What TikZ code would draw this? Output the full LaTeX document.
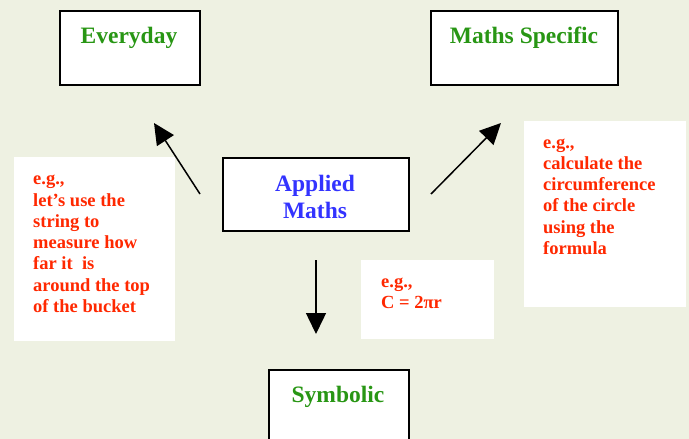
\documentclass[tikz,border=0pt]{standalone}
\usepackage{fontspec}
\setmainfont{Liberation Serif}
\usetikzlibrary{arrows.meta}
\definecolor{bg}{RGB}{238,241,226}
\definecolor{ttlgreen}{RGB}{40,150,20}
\definecolor{ttlblue}{RGB}{51,51,255}
\definecolor{notered}{RGB}{255,40,0}
\tikzset{
  box/.style={draw=black, line width=1.6pt, fill=white, inner sep=0pt, rectangle},
  note/.style={fill=white, draw=none, inner sep=0pt, rectangle},
  ttl/.style={font=\bfseries\fontsize{23.5}{27}\selectfont, inner sep=0pt, align=center},
  redtxt/.style={font=\bfseries\fontsize{18.5}{21.3}\selectfont, text=notered, inner sep=0pt, align=left, anchor=base west},
  arr/.style={line width=1.5pt, -{Triangle[length=21pt,width=20pt]}}
}
\begin{document}
\begin{tikzpicture}[x=1pt,y=-1pt]
\fill[bg] (0,0) rectangle (689,439);
\useasboundingbox (0,0) rectangle (689,439);
\clip (0,0) rectangle (689,439);
% notes
\node[note, minimum width=161pt, minimum height=184pt] (noteL) at (94.5,249) {};
\node[note, minimum width=162pt, minimum height=186pt] (noteR) at (605,214) {};
\node[note, minimum width=133pt, minimum height=79pt] (noteM) at (427.5,299.5) {};
% boxes
\node[box, minimum width=140pt, minimum height=74pt] (everyday) at (130,48) {};
\node[box, minimum width=187pt, minimum height=74pt] (mathsspec) at (524.5,48) {};
\node[box, minimum width=186pt, minimum height=73pt] (applied) at (316,194.5) {};
\node[box, minimum width=140pt, minimum height=100pt] (symbolic) at (339,420) {};
% titles (multi-line nodes are placed by the baseline of their last line)
\node[ttl, text=ttlgreen, anchor=base] (tEveryday) at (129,43) {Everyday};
\node[ttl, text=ttlgreen, anchor=base] (tMaths) at (524,43) {Maths Specific};
\node[ttl, text=ttlblue, anchor=base] (tApplied) at (315,218) {Applied\\Maths};
\node[ttl, text=ttlgreen, anchor=base] (tSymbolic) at (338,402) {Symbolic};
% note texts
\node[redtxt] (txtL) at (33,312.5) {e.g.,\\let’s use the\\string to\\measure how\\far it~ is\\around the top\\of the bucket};
\node[redtxt] (txtR) at (543,254.5) {e.g.,\\calculate the\\circumference\\of the circle\\using the\\formula};
\node[redtxt] (txtM) at (381,308.5) {e.g.,\\C = 2πr};
% arrows
\coordinate (aLs) at (200,194);
\coordinate (aLe) at (154,123);
\coordinate (aRs) at (431,194);
\coordinate (aRe) at (501,123);
\coordinate (aDs) at (316,260);
\coordinate (aDe) at (316,334);
\draw[arr] (aLs) -- (aLe);
\draw[arr] (aRs) -- (aRe);
\draw[arr] (aDs) -- (aDe);
\end{tikzpicture}
\end{document}
